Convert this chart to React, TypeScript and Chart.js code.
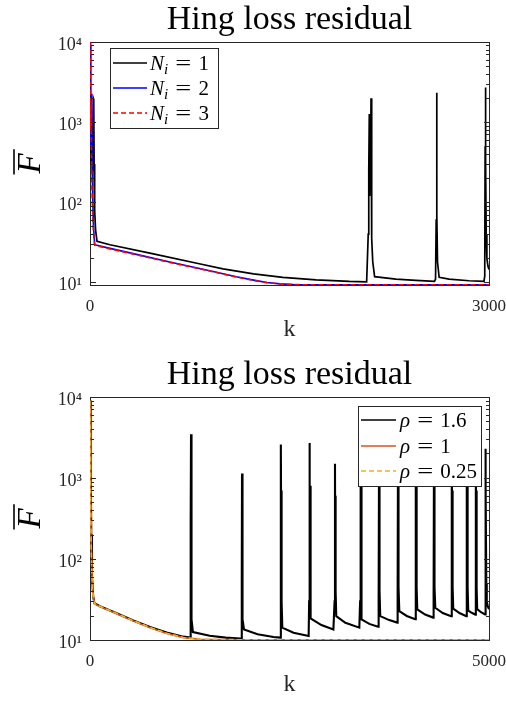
import React, { useEffect, useRef } from "react";
import { Chart, registerables } from "chart.js";

Chart.register(...registerables);

// ---------------- shared text ----------------
const TITLE = "Hing loss residual";
const X_LABEL = "k";
const Y_LABEL = "F";
const Y_TICKS = [10, 100, 1000, 10000];
const Y_TICK_LABELS = ["10\u00B9", "10\u00B2", "10\u00B3", "10\u2074"];

// ---------------- top chart data ----------------
const TOP_X_MAX = 3000;
const TOP_X_TICK_LABELS = ["0", "3000"];
const TOP_Y_MIN = 9.3;
const TOP_Y_MAX = 10000;
const TOP_LABELS = ["N_i = 1", "N_i = 2", "N_i = 3"];

const topK1 = [0, 4, 9, 14, 18, 22, 26, 28, 31, 35, 42, 53, 150, 450, 830, 1000, 1230, 1450, 1700, 1950, 2080,
  2092, 2096, 2100, 2103, 2106, 2109, 2113, 2116, 2120, 2126, 2140, 2300, 2450, 2590, 2598, 2603, 2606, 2609, 2613, 2625,
  2700, 2850, 2962, 2968, 2971, 2973, 2976, 2979, 2984, 2992, 3000];
const topF1 = [9000, 1500, 300, 800, 250, 700, 1950, 1900, 300, 80, 45, 32.6, 29.5, 23.2, 17.0, 14.8, 12.8, 11.6, 10.8, 10.3, 10.2,
  40, 250, 1260, 120, 600, 150, 1980, 90, 35, 18, 11.8, 11.0, 10.6, 10.3, 11, 60, 2320, 70, 18, 11.6,
  11.0, 10.5, 10.3, 12, 500, 2690, 300, 40, 20, 16, 14.5];

const topK2 = [0, 3, 6, 9, 13, 16, 20, 26, 35, 150, 300, 600, 900, 1100, 1230, 1330, 1430, 1530, 1650, 2000, 2500, 3000];
const topF2 = [10000, 2500, 500, 1000, 2250, 300, 120, 50, 29.6, 26.6, 23.4, 18.0, 14.0, 11.8, 10.7, 10.0, 9.6, 9.42, 9.36, 9.34, 9.34, 9.34];

const topK3 = [0, 2, 5, 8, 11, 15, 20, 27, 36, 150, 300, 600, 900, 1100, 1230, 1330, 1430, 1530, 1650, 2000, 2500, 3000];
const topF3 = [10000, 4000, 800, 1800, 400, 150, 70, 40, 29.0, 26.2, 23.1, 17.8, 13.9, 11.7, 10.6, 9.95, 9.57, 9.41, 9.35, 9.33, 9.33, 9.33];

// ---------------- bottom chart data ----------------
const BOT_X_MAX = 5000;
const BOT_X_TICK_LABELS = ["0", "5000"];
const BOT_Y_MIN = 10;
const BOT_Y_MAX = 10000;
const BOT_LABELS = ["\u03C1 = 1.6", "\u03C1 = 1", "\u03C1 = 0.25"];

const botK1 = [0, 5, 9, 12, 16, 25, 40, 54, 125, 334, 543, 752, 961, 1170, 1255,
  1260, 1263, 1266, 1268, 1270, 1273, 1278, 1290, 1500, 1700, 1880,
  1898, 1902, 1905, 1907, 1909, 1912, 1917, 1930, 2100, 2300, 2385,
  2390, 2393, 2396, 2399, 2403, 2410, 2550, 2740,
  2746, 2751, 2754, 2757, 2761, 2768, 2900, 3050,
  3065, 3070, 3073, 3076, 3080, 3086, 3200, 3375,
  3385, 3390, 3393, 3396, 3400, 3405, 3500, 3610,
  3617, 3622, 3625, 3628, 3632, 3637, 3750, 3850,
  3855, 3860, 3863, 3866, 3870, 3876, 3970, 4075,
  4080, 4085, 4088, 4091, 4095, 4101, 4200, 4300,
  4306, 4311, 4314, 4317, 4321, 4327, 4420, 4525,
  4531, 4536, 4539, 4542, 4546, 4552, 4630, 4715,
  4719, 4724, 4727, 4730, 4734, 4740, 4790, 4830,
  4833, 4837, 4840, 4843, 4847, 4852, 4900, 4950,
  4953, 4956, 4959, 4962, 4966, 4972, 4985, 5000];
const botF1 = [9000, 600, 200, 1580, 200, 60, 35, 28.5, 26.1, 21.4, 17.4, 14.5, 12.4, 11.0, 10.7,
  14, 300, 3450, 400, 1200, 60, 18, 12.5, 11.3, 10.7, 10.4,
  10.5, 60, 1130, 300, 1100, 50, 18, 13.5, 11.8, 10.9, 10.7,
  40, 2580, 200, 700, 30, 14.2, 12.3, 11.2,
  30, 2690, 300, 800, 40, 18.5, 15.3, 13.5,
  30, 1490, 150, 600, 40, 19.7, 16.3, 14.2,
  30, 2600, 200, 900, 40, 18, 15.8, 14.6,
  30, 1900, 150, 700, 40, 19.7, 17.6, 16.4,
  35, 3000, 250, 1000, 45, 22.7, 19.8, 18,
  35, 2200, 200, 800, 45, 23.9, 20.6, 18.9,
  35, 2800, 250, 900, 45, 25, 21.5, 19.7,
  35, 1700, 150, 700, 45, 24.4, 21.5, 19.7,
  35, 2400, 200, 800, 45, 23, 21.5, 20.5,
  35, 1900, 150, 700, 45, 24, 22, 20.7,
  35, 2280, 250, 800, 50, 30, 26, 24];

const botK2 = [0, 4, 8, 12, 18, 28, 40, 54, 125, 334, 543, 752, 961, 1170, 1378, 1600, 2000, 3000, 4000, 5000];
const botF2 = [8000, 3000, 700, 300, 120, 55, 35, 28, 25.8, 21.1, 17.1, 14.2, 12.0, 10.7, 10.2, 10.1, 10.06, 10.06, 10.06, 10.06];

const botK3 = [0, 3, 6, 10, 15, 22, 32, 45, 56, 125, 334, 543, 752, 961, 1170, 1378, 1600, 2000, 3000, 4000, 5000];
const botF3 = [9000, 4000, 1200, 400, 150, 70, 40, 31, 28.2, 26.0, 21.3, 17.3, 14.3, 12.1, 10.75, 10.25, 10.12, 10.07, 10.07, 10.07, 10.07];

// ---------------- helpers ----------------
const SERIF = '"Liberation Serif", "DejaVu Serif", serif';

type Series = { label: string; color: string; dash: number[]; width: number; k: number[]; f: number[] };
type LegendCfg = { x: number; y: number; w: number; h: number; rows: number[]; lineX0: number; lineX1: number; textX: number; size: number };

function drawMath(ctx: CanvasRenderingContext2D, label: string, x: number, y: number, size: number) {
  const parts = label.split(" = ");
  const lhs = parts[0];
  const rhs = parts[1] || "";
  const [sym, sub] = lhs.split("_");
  const base = y + size * 0.33;
  ctx.textAlign = "left";
  ctx.textBaseline = "alphabetic";
  ctx.fillStyle = "#000";
  ctx.font = `italic ${size}px ${SERIF}`;
  ctx.fillText(sym, x, base);
  let cx = x + ctx.measureText(sym).width;
  if (sub) {
    ctx.font = `italic ${Math.round(size * 0.72)}px ${SERIF}`;
    ctx.fillText(sub, cx, base + size * 0.2);
    cx += ctx.measureText(sub).width;
  }
  cx += size * 0.34;
  ctx.font = `${size}px ${SERIF}`;
  // wider, TeX-like equals sign
  ctx.save();
  ctx.translate(cx, base);
  ctx.scale(1.35, 1);
  ctx.fillText("=", 0, 0);
  ctx.restore();
  cx += ctx.measureText("=").width * 1.35 + size * 0.34;
  ctx.fillText(rhs, cx, base);
}

const decorPlugin = {
  id: "decor",
  beforeDatasetsDraw(chart: any) {
    const { ctx, chartArea: a } = chart;
    ctx.save();
    ctx.strokeStyle = "#262626";
    ctx.lineWidth = 1;
    ctx.strokeRect(Math.round(a.left) + 0.5, Math.round(a.top) + 0.5, Math.round(a.right - a.left), Math.round(a.bottom - a.top));
    ctx.restore();
  },
  afterDraw(chart: any, _args: any, opts: any) {
    const { ctx, chartArea: a, scales } = chart;
    const ys = scales.y;
    ctx.save();
    // inward log ticks on left and right
    ctx.strokeStyle = "#262626";
    ctx.lineWidth = 1;
    ctx.setLineDash([]);
    ctx.beginPath();
    for (let d = 0; d <= 4; d++) {
      for (let m = 1; m <= 9; m++) {
        const v = m * Math.pow(10, d);
        if (v < ys.min || v > ys.max) continue;
        const py = Math.round(ys.getPixelForValue(v)) + 0.5;
        const len = m === 1 ? 5 : 3;
        ctx.moveTo(a.left + 1, py);
        ctx.lineTo(a.left + 1 + len, py);
        ctx.moveTo(a.right, py);
        ctx.lineTo(a.right - len, py);
      }
    }
    ctx.stroke();
    // legend
    const lg: LegendCfg = opts.legend;
    ctx.fillStyle = "#fff";
    ctx.fillRect(lg.x, lg.y, lg.w, lg.h);
    ctx.strokeStyle = "#262626";
    ctx.lineWidth = 1;
    ctx.strokeRect(lg.x + 0.5, lg.y + 0.5, lg.w, lg.h);
    chart.data.datasets.forEach((ds: any, i: number) => {
      const ry = lg.y + lg.rows[i];
      ctx.beginPath();
      ctx.setLineDash(ds.borderDash || []);
      ctx.strokeStyle = ds.borderColor;
      ctx.lineWidth = Math.min(ds.borderWidth, 1.6);
      ctx.moveTo(lg.x + lg.lineX0, ry);
      ctx.lineTo(lg.x + lg.lineX1, ry);
      ctx.stroke();
      ctx.setLineDash([]);
      drawMath(ctx, ds.label, lg.x + lg.textX, ry, lg.size);
    });
    // y label: F with overline, rotated
    const cy = (a.top + a.bottom) / 2;
    ctx.translate(40, cy);
    ctx.rotate(-Math.PI / 2);
    ctx.font = `italic 33px ${SERIF}`;
    ctx.fillStyle = "#000";
    ctx.textAlign = "center";
    ctx.textBaseline = "alphabetic";
    ctx.fillText(opts.yLabel, 0, 0);
    const w = ctx.measureText(opts.yLabel).width;
    ctx.beginPath();
    ctx.strokeStyle = "#000";
    ctx.lineWidth = 1.6;
    ctx.moveTo(-w / 2 - 1, -26);
    ctx.lineTo(w / 2 + 4, -26);
    ctx.stroke();
    ctx.restore();
  },
};

type Props = {
  top: number;
  height: number;
  xMax: number;
  xTickLabels: string[];
  yMin: number;
  yMax: number;
  series: Series[];
  legend: LegendCfg;
};

function LogChart({ top, height, xMax, xTickLabels, yMin, yMax, series, legend }: Props) {
  const ref = useRef<HTMLCanvasElement>(null);
  useEffect(() => {
    const tickColor = "#262626";
    const chart = new Chart(ref.current as HTMLCanvasElement, {
      type: "line",
      data: {
        datasets: series.map((s, i) => ({
          label: s.label,
          data: s.k.map((k, j) => ({ x: k, y: s.f[j] })),
          borderColor: s.color,
          backgroundColor: s.color,
          borderDash: s.dash,
          borderWidth: s.width,
          pointRadius: 0,
          tension: 0,
          fill: false,
          order: series.length - i,
        })),
      },
      options: {
        responsive: false,
        animation: false,
        devicePixelRatio: 1,
        events: [],
        layout: { padding: { left: 0, right: 17, top: 0, bottom: 0 } },
        plugins: {
          legend: { display: false },
          tooltip: { enabled: false },
          title: {
            display: true,
            text: TITLE,
            fullSize: false,
            color: "#000",
            font: { family: SERIF, size: 34, weight: "normal", lineHeight: 1.2 },
            padding: { top: 0, bottom: 1 },
          },
          decor: { legend, yLabel: Y_LABEL },
        } as any,
        scales: {
          x: {
            type: "linear",
            min: 0,
            max: xMax,
            grid: { display: false, drawTicks: false },
            border: { display: false },
            ticks: {
              color: tickColor,
              font: { family: SERIF, size: 17 },
              padding: 11,
              maxRotation: 0,
              autoSkip: false,
              callback: (v: any) => xTickLabels[v === 0 ? 0 : 1],
            },
            title: {
              display: true,
              text: X_LABEL,
              color: tickColor,
              font: { family: SERIF, size: 24, lineHeight: 1.2 },
              padding: { top: 0, bottom: 7 },
            },
            afterBuildTicks: (s: any) => {
              s.ticks = [{ value: 0 }, { value: xMax }];
            },
            afterFit: (s: any) => {
              s.height = height - 285;
              s.paddingLeft = 0;
              s.paddingRight = 0;
            },
          },
          y: {
            type: "logarithmic",
            min: yMin,
            max: yMax,
            grid: { display: false, drawTicks: false },
            border: { display: false },
            ticks: {
              color: tickColor,
              font: { family: SERIF, size: 18 },
              padding: 8,
              labelOffset: 3,
              autoSkip: false,
              callback: (v: any) => {
                const idx = Y_TICKS.indexOf(Number(v));
                return idx >= 0 ? Y_TICK_LABELS[idx] : "";
              },
            },
            afterBuildTicks: (s: any) => {
              s.ticks = Y_TICKS.map((v) => ({ value: v }));
            },
            afterFit: (s: any) => {
              s.width = 90;
              s.paddingTop = 0;
              s.paddingBottom = 0;
            },
          },
        } as any,
      },
      plugins: [decorPlugin as any],
    });
    return () => chart.destroy();
  }, []);
  return (
    <canvas
      ref={ref}
      width={506}
      height={height}
      style={{ position: "absolute", left: 0, top, width: 506, height, display: "block" }}
    />
  );
}

const topSeries: Series[] = [
  { label: TOP_LABELS[0], color: "#000000", dash: [], width: 1.7, k: topK1, f: topF1 },
  { label: TOP_LABELS[1], color: "#0000ff", dash: [], width: 1.6, k: topK2, f: topF2 },
  { label: TOP_LABELS[2], color: "#ff0000", dash: [5, 3], width: 1.6, k: topK3, f: topF3 },
];

const botSeries: Series[] = [
  { label: BOT_LABELS[0], color: "#000000", dash: [], width: 2.1, k: botK1, f: botF1 },
  { label: BOT_LABELS[1], color: "#D95319", dash: [], width: 1.6, k: botK2, f: botF2 },
  { label: BOT_LABELS[2], color: "#EDB120", dash: [5, 3], width: 1.6, k: botK3, f: botF3 },
];

export default function App() {
  return (
    <div style={{ position: "absolute", left: 0, top: 0, width: 506, height: 702, overflow: "hidden", background: "#fff" }}>
      <LogChart
        top={0}
        height={351}
        xMax={TOP_X_MAX}
        xTickLabels={TOP_X_TICK_LABELS}
        yMin={TOP_Y_MIN}
        yMax={TOP_Y_MAX}
        series={topSeries}
        legend={{ x: 110, y: 48, w: 108, h: 80, rows: [15, 40, 65], lineX0: 3, lineX1: 37, textX: 40, size: 21 }}
      />
      <LogChart
        top={355}
        height={351}
        xMax={BOT_X_MAX}
        xTickLabels={BOT_X_TICK_LABELS}
        yMin={BOT_Y_MIN}
        yMax={BOT_Y_MAX}
        series={botSeries}
        legend={{ x: 358, y: 51, w: 123, h: 80, rows: [14, 40, 65], lineX0: 3, lineX1: 38, textX: 42, size: 21 }}
      />
    </div>
  );
}
